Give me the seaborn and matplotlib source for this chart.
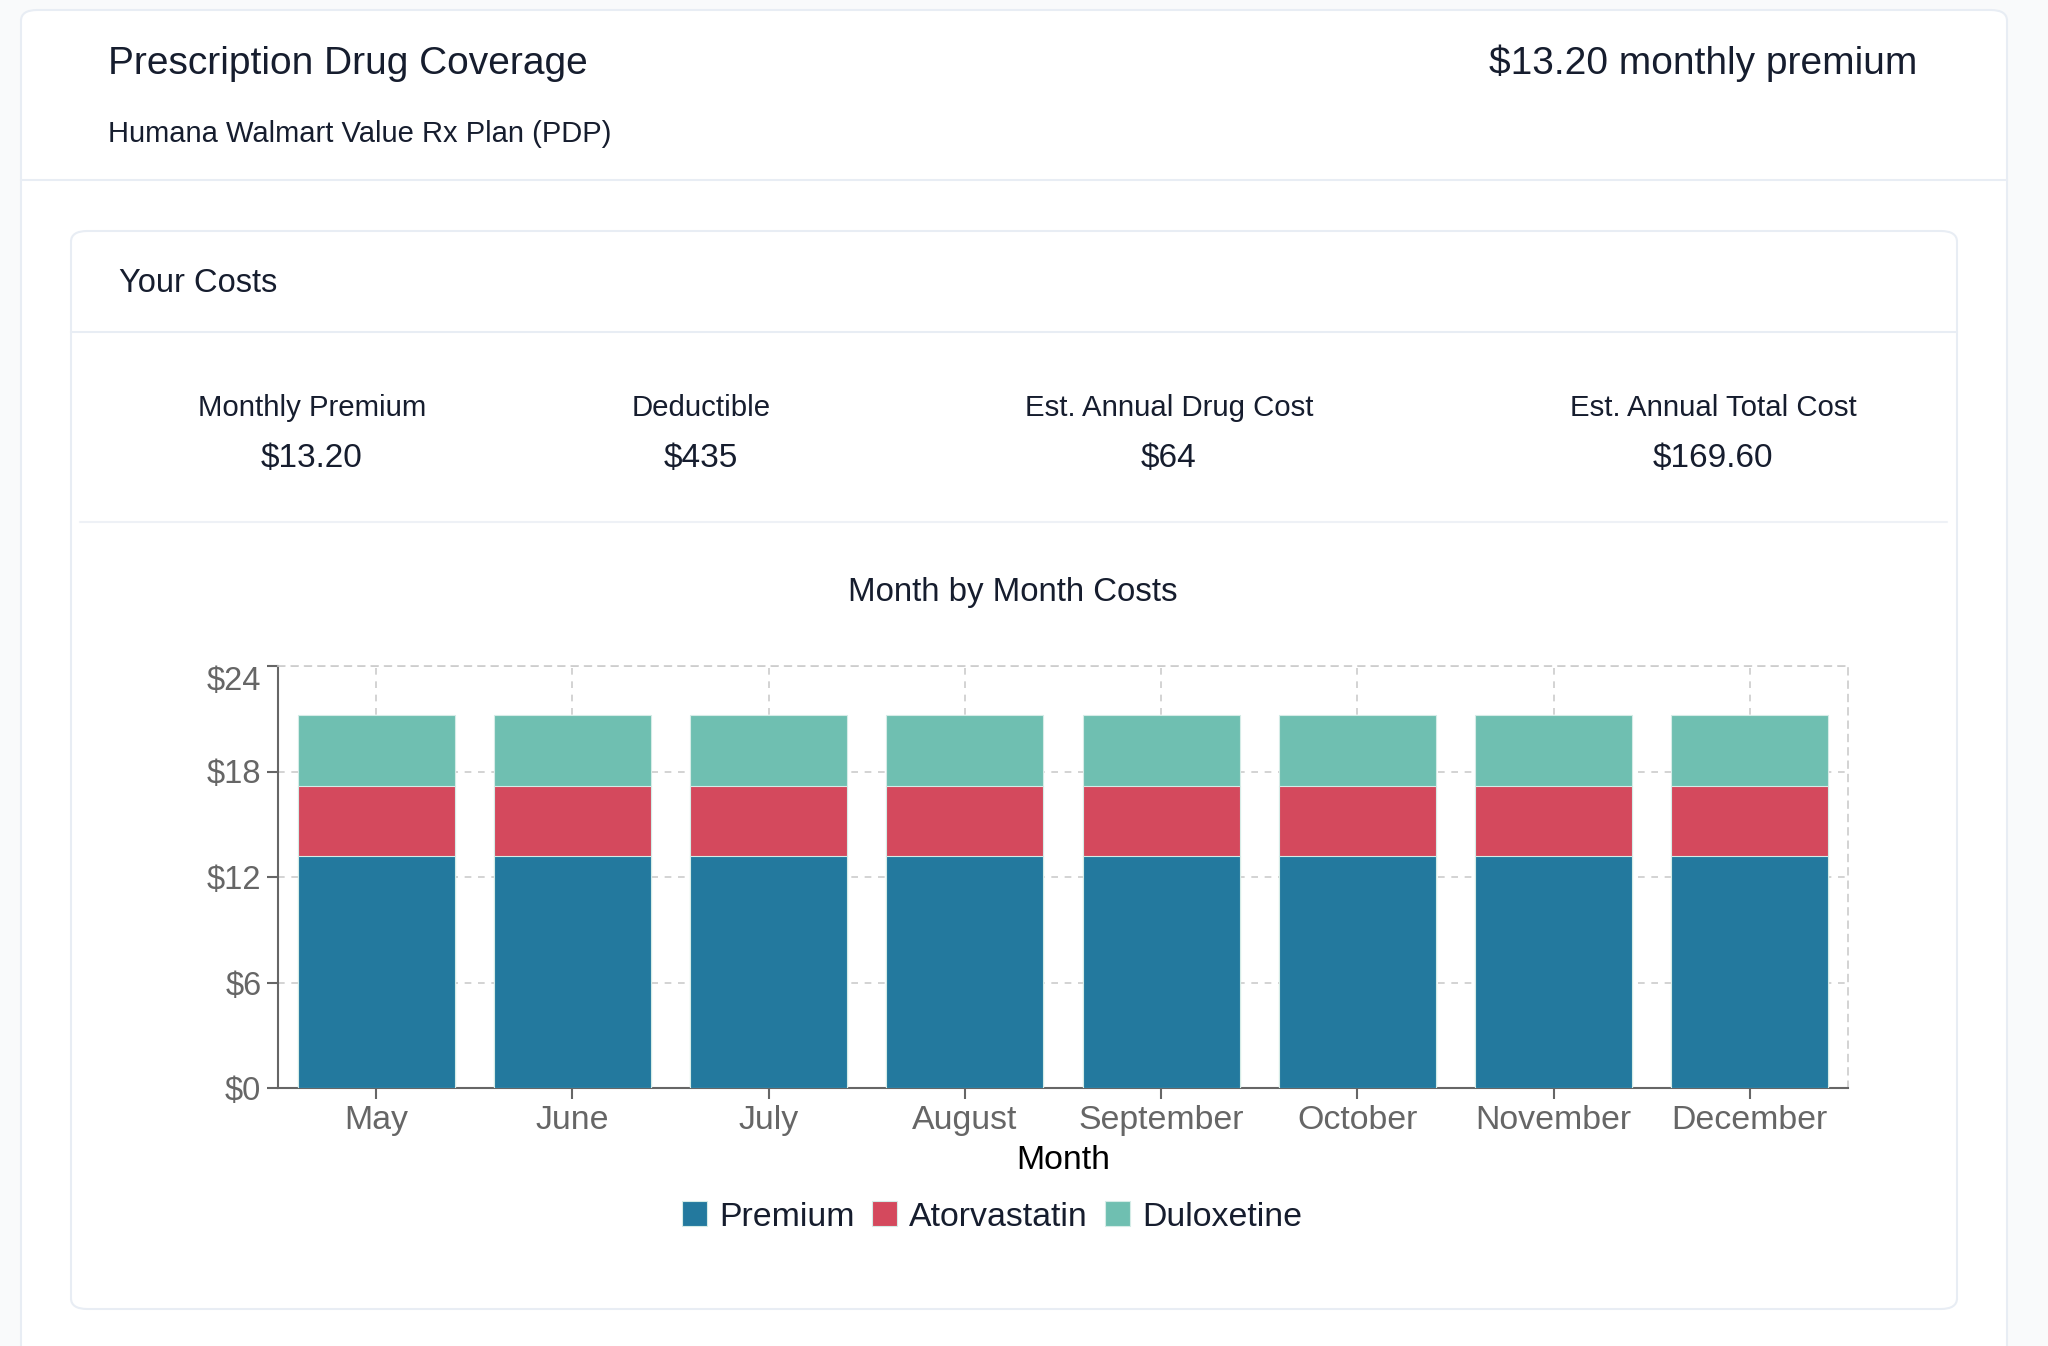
import matplotlib
matplotlib.use("Agg")
import matplotlib.pyplot as plt
from matplotlib.patches import FancyBboxPatch, Patch
from matplotlib.lines import Line2D
import seaborn as sns
import pandas as pd
import numpy as np

months = ["May", "June", "July", "August", "September", "October", "November", "December"]
premium = [13.20] * 8
atorvastatin = [4.00] * 8
duloxetine = [4.00] * 8
series_names = ["Premium", "Atorvastatin", "Duloxetine"]
series_colors = ["#23799e", "#d4495d", "#6fbfb1"]
y_ticks = [0, 6, 12, 18, 24]
y_tick_labels = ["$0", "$6", "$12", "$18", "$24"]

plan_title = "Prescription Drug Coverage"
plan_premium = "$13.20 monthly premium"
plan_name = "Humana Walmart Value Rx Plan (PDP)"
stat_labels = ["Monthly Premium", "Deductible", "Est. Annual Drug Cost", "Est. Annual Total Cost"]
stat_values = ["$13.20", "$435", "$64", "$169.60"]

sns.set_theme(style="white")
plt.rcParams["font.family"] = ["Liberation Sans", "DejaVu Sans"]

W, H = 2048, 1346
fig = plt.figure(figsize=(W / 100, H / 100), dpi=100, facecolor="#f9fafb")

def fx(x):
    return x / W

def fy(y):
    return 1 - y / H

# outer card
fig.patches.append(FancyBboxPatch((fx(21), fy(1360)), fx(2007) - fx(21), fy(10) - fy(1360),
                                  boxstyle="round,pad=0,rounding_size=0.008", transform=fig.transFigure,
                                  facecolor="white", edgecolor="#e8edf4", linewidth=1.5, zorder=0))
# header divider
fig.add_artist(Line2D([fx(21), fx(2007)], [fy(180), fy(180)], color="#e8edf4", lw=1.5, transform=fig.transFigure))
# inner card
fig.patches.append(FancyBboxPatch((fx(71), fy(1309)), fx(1957) - fx(71), fy(231) - fy(1309),
                                  boxstyle="round,pad=0,rounding_size=0.008", transform=fig.transFigure,
                                  facecolor="white", edgecolor="#e8edf4", linewidth=1.5, zorder=0.5))
fig.add_artist(Line2D([fx(71), fx(1957)], [fy(332), fy(332)], color="#e8edf4", lw=1.5, transform=fig.transFigure))
fig.add_artist(Line2D([fx(80), fx(1947)], [fy(522), fy(522)], color="#eef1f6", lw=1.5, transform=fig.transFigure))

dark = "#161d2e"
fig.text(fx(108), fy(64), plan_title, fontsize=28, color=dark, ha="left", va="center")
fig.text(fx(1917), fy(63), plan_premium, fontsize=28, color=dark, ha="right", va="center")
fig.text(fx(108), fy(134), plan_name, fontsize=21, color=dark, ha="left", va="center")
fig.text(fx(119), fy(284), "Your Costs", fontsize=23.5, color=dark, ha="left", va="center")

stat_x = [312, 701, 1169, 1713]
for sx, lab, val in zip(stat_x, stat_labels, stat_values):
    fig.text(fx(sx), fy(408), lab, fontsize=21.2, color=dark, ha="center", va="center")
    fig.text(fx(sx), fy(459), val, fontsize=24, color=dark, ha="center", va="center")

fig.text(fx(1013), fy(593), "Month by Month Costs", fontsize=23.8, color=dark, ha="center", va="center")

ax = fig.add_axes([fx(278), fy(1088), fx(1848) - fx(278), fy(666) - fy(1088)])
ax.set_zorder(5)
ax.set_facecolor("white")

df = pd.DataFrame({"Month": months, "Premium": premium,
                   "Atorvastatin": atorvastatin, "Duloxetine": duloxetine})
df["lvl1"] = df["Premium"]
df["lvl2"] = df["Premium"] + df["Atorvastatin"]
df["lvl3"] = df["lvl2"] + df["Duloxetine"]

for col, color in zip(["lvl3", "lvl2", "lvl1"], series_colors[::-1]):
    sns.barplot(data=df, x="Month", y=col, order=months, color=color, saturation=1,
                width=0.8, edgecolor="#d5ece7", linewidth=0.8, ax=ax, zorder=3)

ax.set_xlim(-0.5, len(months) - 0.5)
ax.set_ylim(0, 24)
ax.set_yticks(y_ticks)
ax.set_yticklabels(y_tick_labels)
ax.grid(True, axis="both", linestyle=(0, (4, 4)), color="#cccccc", linewidth=1.2, zorder=0)
ax.set_axisbelow(True)

for s in ["left", "bottom"]:
    ax.spines[s].set_color("#666666")
    ax.spines[s].set_linewidth(1.5)
for s in ["top", "right"]:
    ax.spines[s].set_color("#cccccc")
    ax.spines[s].set_linewidth(1.2)
    ax.spines[s].set_linestyle((0, (4, 4)))

ax.tick_params(axis="y", which="major", length=8, width=1.5, color="#666666",
               labelcolor="#666666", labelsize=23.5, pad=4, direction="out", left=True)
ax.tick_params(axis="x", which="major", length=8, width=1.5, color="#666666",
               labelcolor="#666666", labelsize=24.4, pad=4, direction="out", bottom=True)
# top tick label sits just inside the axis top, as in the reference
ax.get_yticklabels()[-1].set_verticalalignment("top")
ax.get_yticklabels()[-1].set_y(23.8)
ax.set_xlabel("Month", fontsize=24.4, color="black", labelpad=7)
ax.set_ylabel("")

handles = [Patch(facecolor=c, edgecolor="#d5ece7", linewidth=0.8, label=n)
           for n, c in zip(series_names, series_colors)]
fig.legend(handles=handles, loc="center", bbox_to_anchor=(fx(992), fy(1217)), ncol=3,
           frameon=False, fontsize=24.4, handlelength=0.75, handleheight=0.75,
           handletextpad=0.35, columnspacing=0.5, labelcolor=dark)

fig.savefig("out.png", dpi=100, facecolor=fig.get_facecolor())
